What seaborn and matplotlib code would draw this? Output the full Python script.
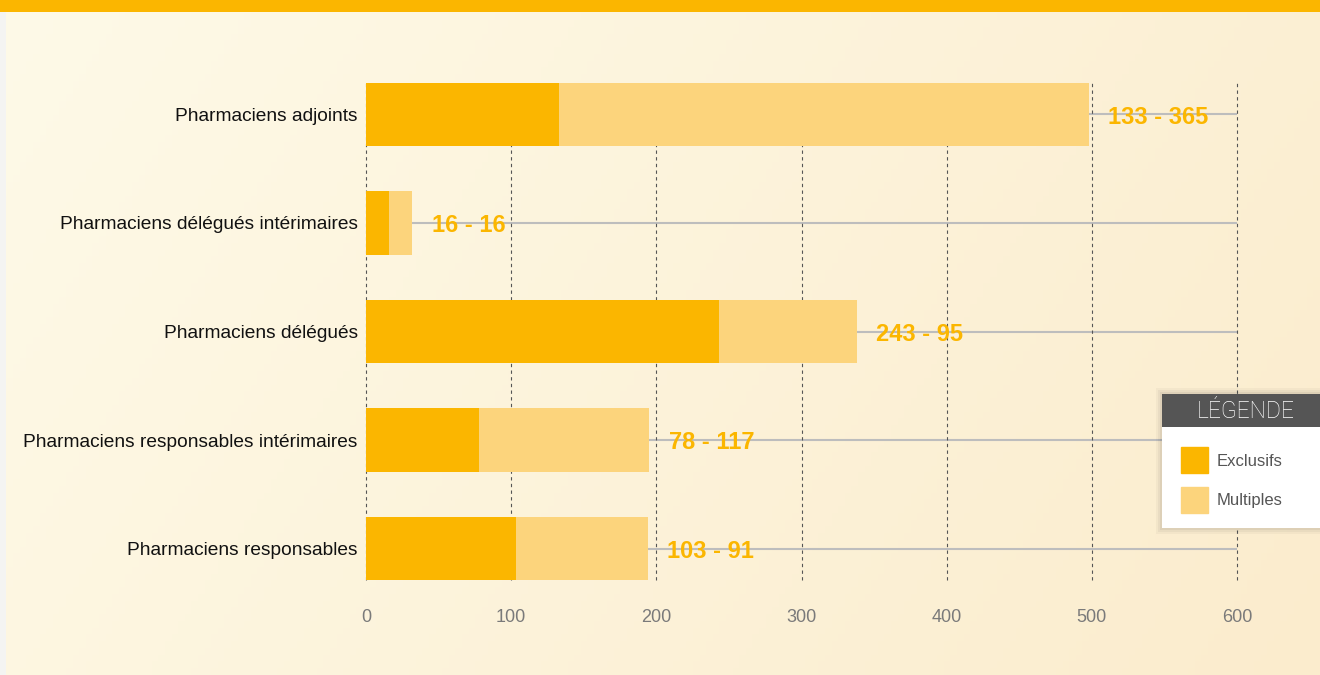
import numpy as np
import pandas as pd
import seaborn as sns
import matplotlib.pyplot as plt
from matplotlib.patches import Rectangle, Patch

# Data
categories = [
    "Pharmaciens adjoints",
    "Pharmaciens délégués intérimaires",
    "Pharmaciens délégués",
    "Pharmaciens responsables intérimaires",
    "Pharmaciens responsables",
]
exclusifs = [133, 16, 243, 78, 103]
multiples = [365, 16, 95, 117, 91]
x_ticks = [0, 100, 200, 300, 400, 500, 600]

c_excl = "#FBB600"
c_mult = "#FCD47C"

df = pd.DataFrame({"cat": categories, "excl": exclusifs, "mult": multiples})
df["total"] = df["excl"] + df["mult"]

sns.set_style("white")
plt.rcParams["font.family"] = ["Liberation Sans", "DejaVu Sans"]

W, H = 1320, 675
fig = plt.figure(figsize=(W / 100, H / 100), dpi=100)

# background gradient
bg = fig.add_axes([0, 0, 1, 1], zorder=-10)
gx = np.linspace(0, 1, 200)
gy = np.linspace(0, 1, 100)
GX, GY = np.meshgrid(gx, gy)
t = np.clip(0.75 * GX + 0.25 * GY, 0, 1)
c0 = np.array([254, 250, 232]) / 255
c1 = np.array([251, 236, 205]) / 255
img = c0[None, None, :] * (1 - t[..., None]) + c1[None, None, :] * t[..., None]
bg.imshow(img, aspect="auto", extent=[0, 1, 0, 1], origin="upper")
bg.add_patch(Rectangle((0, 0), 6 / W, 1, color="#F4F4F2", lw=0))
bg.add_patch(Rectangle((0, 1 - 12 / H), 1, 12 / H, color=c_excl, lw=0))
bg.set_xlim(0, 1)
bg.set_ylim(0, 1)
bg.axis("off")

ax = fig.add_axes([366 / W, 1 - 580 / H, (1237 - 366) / W, (580 - 83) / H])
ax.patch.set_alpha(0)

# grey guide lines behind each bar
ax.hlines(range(len(categories)), 0, 600, color="#BDBDBD", lw=1.5, zorder=0)

sns.barplot(data=df, x="total", y="cat", color=c_mult, width=0.585,
            saturation=1, orient="h", ax=ax, zorder=2, linewidth=0, edgecolor="none")
sns.barplot(data=df, x="excl", y="cat", color=c_excl, width=0.585,
            saturation=1, orient="h", ax=ax, zorder=3, linewidth=0, edgecolor="none")

for i, row in df.iterrows():
    ax.annotate(f"{row['excl']} - {row['mult']}", (row["total"], i),
                xytext=(14, -2), textcoords="offset points", ha="left",
                va="center", color=c_excl, fontsize=17, fontweight="bold",
                zorder=4)

ax.set_xlim(0, 600)
ax.set_ylim(len(categories) - 0.71, -0.29)
ax.set_xticks(x_ticks)
ax.grid(axis="x", color="#555555", ls=(0, (3, 3)), lw=0.8)
for gl in ax.get_xgridlines():
    gl.set_clip_on(False)
ax.set_axisbelow(True)
sns.despine(ax=ax, left=True, bottom=True)
ax.set_xlabel("")
ax.set_ylabel("")
ax.tick_params(axis="x", length=0, pad=21, labelsize=13, labelcolor="#7a7a7a")
ax.tick_params(axis="y", length=0, pad=6, labelsize=13.8, labelcolor="#111111")

# legend box
lx, ly, lw_, lh = 1162, 394, 160, 134
for k, a in [(6, 0.03), (4, 0.04), (2, 0.05)]:
    fig.patches.append(Rectangle(((lx - k) / W, 1 - (ly + lh + k) / H), (lw_ + 2 * k) / W,
                                 (lh + 2 * k) / H, transform=fig.transFigure,
                                 color="black", alpha=a, lw=0, zorder=5))
fig.patches.append(Rectangle((lx / W, 1 - (ly + lh) / H), lw_ / W, lh / H,
                             transform=fig.transFigure, color="white", lw=0, zorder=6))
fig.patches.append(Rectangle((lx / W, 1 - (ly + 33) / H), lw_ / W, 33 / H,
                             transform=fig.transFigure, color="#555555", lw=0, zorder=7))
fig.text(1246 / W, 1 - 412 / H, "LÉGENDE", ha="center", va="center", color="white",
         fontsize=16.5, family=["Roboto", "DejaVu Sans"], fontweight="light", zorder=8)

handles = [Patch(color=c_excl), Patch(color=c_mult)]
leg = fig.legend(handles, ["Exclusifs", "Multiples"], loc="upper left",
                 bbox_to_anchor=(1173 / W, 1 - 439 / H), frameon=False,
                 handlelength=1.6, handleheight=2.0, labelspacing=0.85,
                 handletextpad=0.5, fontsize=12, borderpad=0)
leg.set_zorder(9)
for txt in leg.get_texts():
    txt.set_color("#555555")

fig.savefig("out.png", dpi=100)
